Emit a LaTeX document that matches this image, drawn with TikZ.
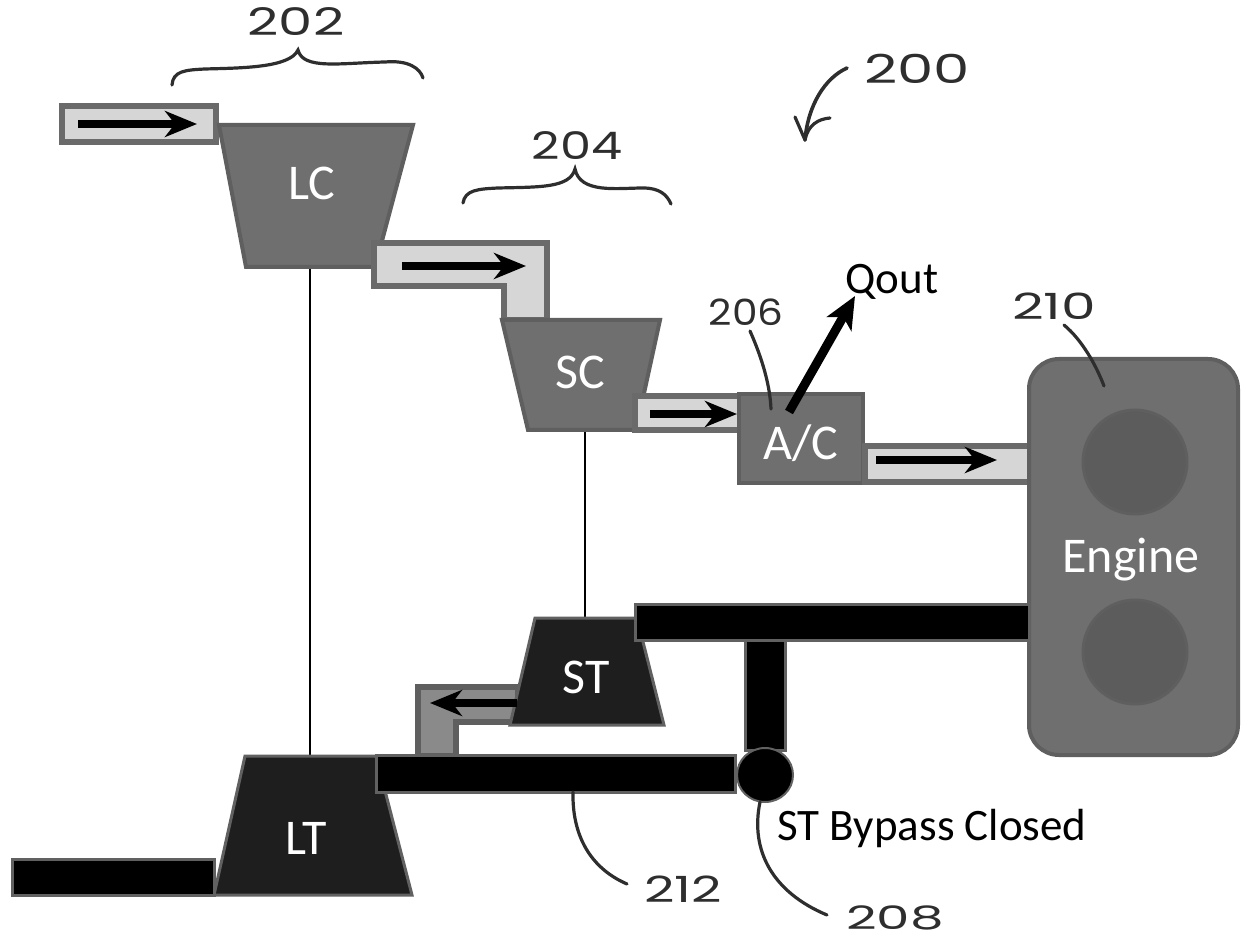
\documentclass[tikz,border=0pt]{standalone}
\usepackage{fontspec}
\setmainfont{Carlito}
\newfontfamily\handfont{Poppins}
\definecolor{compgray}{HTML}{6F6F6F}
\definecolor{compedge}{HTML}{5F5F5F}
\definecolor{ductfill}{HTML}{D6D6D6}
\definecolor{ductedge}{HTML}{6A6A6A}
\definecolor{turbfill}{HTML}{1E1E1E}
\definecolor{hotfill}{HTML}{8A8A8A}
\definecolor{cylfill}{HTML}{5C5C5C}
\definecolor{hand}{HTML}{2E2E2E}
\usetikzlibrary{arrows.meta}
\tikzset{
  compshape/.style={fill=compgray,draw=compedge,line width=2pt,line join=miter},
  turbshape/.style={fill=turbfill,draw=turbfill!70!white,line width=1.5pt},
  ductshape/.style={fill=ductfill,draw=ductedge,line width=3pt},
  hotduct/.style={fill=hotfill,draw=compedge,line width=3pt},
  barshape/.style={fill=black,draw=turbfill!70!white,line width=1.5pt},
  shaftline/.style={black,line width=1.4pt},
  flowarrow/.style={black,line width=3.6pt,-{Stealth[length=16pt,width=13pt,inset=5pt]}},
  whitelabel/.style={white,font=\fontsize{25}{25}\selectfont,inner sep=0pt},
  blacklabel/.style={black,font=\fontsize{22.5}{25}\selectfont,inner sep=0pt},
  handlabel/.style={hand,font=\handfont\fontsize{19}{19}\selectfont,inner sep=0pt},
  handline/.style={hand,line width=1.6pt,line cap=round},
}
\begin{document}
\begin{tikzpicture}[x=0.5pt,y=-0.5pt]
\useasboundingbox (0,0) rectangle (1242,946);
% coordinates
\coordinate (lcbot) at (310,268);
\coordinate (lttop) at (310,756);
\coordinate (scbot) at (585,431);
\coordinate (sttop) at (585,617);
\coordinate (a1s) at (78,124);  \coordinate (a1e) at (197,124);
\coordinate (a2s) at (402,266); \coordinate (a2e) at (526,266);
\coordinate (a3s) at (650,414); \coordinate (a3e) at (737,414);
\coordinate (a4s) at (876,460); \coordinate (a4e) at (997,460);
\coordinate (a5s) at (517,703); \coordinate (a5e) at (430,703);
\coordinate (q1) at (789,412);  \coordinate (q2) at (855,296);
% shafts
\draw[shaftline] (lcbot) -- (lttop);
\draw[shaftline] (scbot) -- (sttop);
% input duct and LC
\draw[ductshape] (62,106) rectangle (216,142);
\draw[compshape] (219,125) -- (413,125) -- (375,267) -- (246,267) -- cycle;
\draw[ductshape] (374,243) -- (547,243) -- (547,320) -- (504,320) -- (504,286) -- (374,286) -- cycle;
\draw[compshape] (502,320) -- (660,320) -- (636,430) -- (528,430) -- cycle;
\draw[ductshape] (635,396) rectangle (740,430);
\draw[compshape] (739,394) rectangle (863,483);
\draw[ductshape] (865,446) rectangle (1030,482);
% engine
\draw[compshape,rounded corners=15pt] (1029,359) rectangle (1238,755);
\draw[fill=cylfill,draw=compedge,line width=1.5pt] (1135,462) circle [radius=52];
\draw[fill=cylfill,draw=compedge,line width=1.5pt] (1135,652) circle [radius=52];
% hot side
\draw[hotduct] (418,687) -- (518,687) -- (518,722) -- (456,722) -- (456,756) -- (418,756) -- cycle;
\draw[turbshape] (535,618) -- (637,618) -- (664,725) -- (510,725) -- cycle;
\draw[turbshape] (245,756) -- (376,756) -- (412,895) -- (214,895) -- cycle;
\draw[barshape] (12,859) rectangle (214,895);
\draw[barshape] (376,755) rectangle (735,792);
\draw[barshape] (635,604) rectangle (1029,640);
\draw[barshape] (745,640) rectangle (785,750);
\draw[fill=black,draw=turbfill!70!white,line width=1pt] (765,775) ellipse [x radius=28,y radius=27];
% flow arrows
\draw[flowarrow] (a1s) -- (a1e);
\draw[flowarrow] (a2s) -- (a2e);
\draw[flowarrow] (a3s) -- (a3e);
\draw[flowarrow] (a4s) -- (a4e);
\draw[flowarrow] (a5s) -- (a5e);
\draw[black,line width=4.5pt,-{Stealth[length=16pt,width=14pt,inset=4pt]}] (q1) -- (q2);
% labels
\node[whitelabel] (lc) at (312,183) {LC};
\node[whitelabel] (sc) at (580,372) {SC};
\node[whitelabel] (ac) at (801,443) {A/C};
\node[whitelabel] (st) at (586,677) {ST};
\node[whitelabel] (lt) at (306,838) {LT};
\node[whitelabel] (engine) at (1131,560) {Engine};
\node[blacklabel] (qout) at (892,282) {Qout};
\node[blacklabel] (bypass) at (932,828) {ST Bypass Closed};
% handwritten refs
\node[handlabel] (n202) at (296,22) {\scalebox{1.43}[1]{202}};
\node[handlabel] (n204) at (577,146) {\scalebox{1.30}[1]{204}};
\node[handlabel] (n200) at (917,69) {\scalebox{1.52}[1.05]{200}};
\node[handlabel] (n206) at (746,312) {\scalebox{1.07}[0.95]{206}};
\node[handlabel] (n210) at (1054,306) {\scalebox{1.45}[0.95]{210}};
\node[handlabel] (n212) at (683,889) {\scalebox{1.39}[0.95]{212}};
\node[handlabel] (n208) at (895,918) {\scalebox{1.4}[0.85]{208}};
% braces
\draw[handline] (172,85) .. controls (173,71) and (185,70) .. (205,69)
  .. controls (240,68) and (290,68) .. (298,50)
  .. controls (303,70) and (340,63) .. (385,62)
  .. controls (408,60) and (420,68) .. (423,78);
\draw[handline] (463,203) .. controls (465,190) and (478,189) .. (498,188)
  .. controls (540,187) and (570,188) .. (575,169)
  .. controls (580,194) and (618,188) .. (643,188)
  .. controls (660,188) and (667,195) .. (671,204);
% leaders
\coordinate (l200a) at (847,68); \coordinate (l200b) at (805,140);
\draw[handline,line width=1.8pt] (l200a) .. controls (825,78) and (808,105) .. (l200b);
\draw[handline] (l200b) -- (795,117);
\draw[handline] (l200b) .. controls (808,125) and (818,119) .. (830,118);
\coordinate (l206a) at (750,331); \coordinate (l206b) at (771,409);
\draw[handline] (l206a) .. controls (762,358) and (770,385) .. (l206b);
\coordinate (l210a) at (1064,325); \coordinate (l210b) at (1104,386);
\draw[handline] (l210a) .. controls (1082,340) and (1096,365) .. (l210b);
\coordinate (l212a) at (573,792); \coordinate (l212b) at (627,884);
\draw[handline] (l212a) .. controls (572,835) and (590,868) .. (l212b);
\coordinate (l208a) at (760,802); \coordinate (l208b) at (827,915);
\draw[handline] (l208a) .. controls (750,850) and (772,892) .. (l208b);
\end{tikzpicture}
\end{document}
